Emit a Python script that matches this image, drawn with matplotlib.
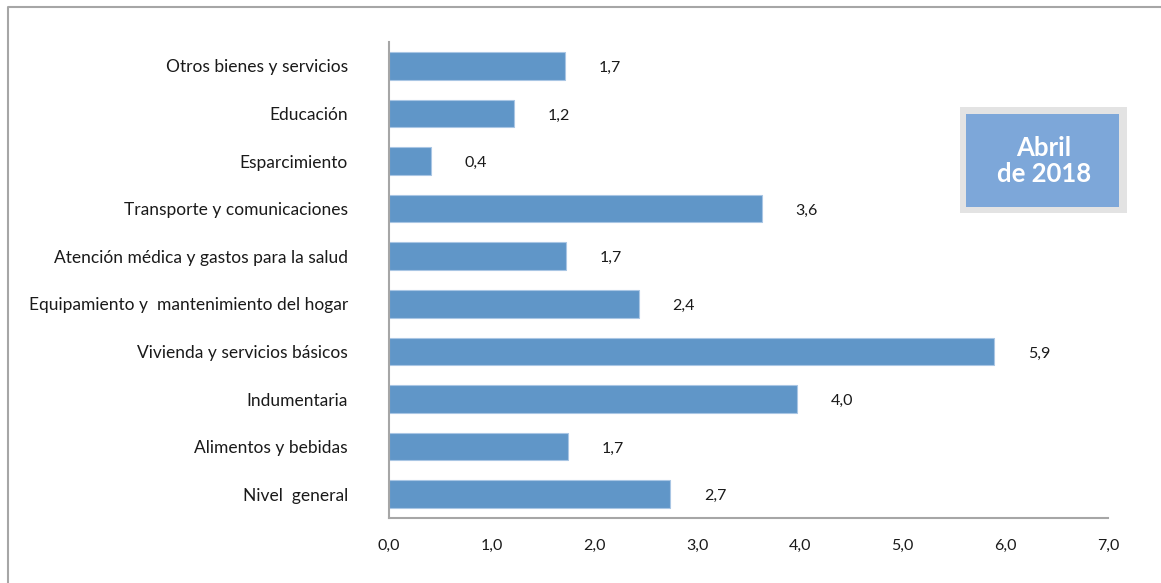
import matplotlib.pyplot as plt
from matplotlib.patches import Rectangle
from matplotlib.lines import Line2D

plt.rcParams['font.family'] = ['Lato', 'DejaVu Sans']

categorias = ['Nivel  general', 'Alimentos y bebidas', 'Indumentaria',
              'Vivienda y servicios básicos',
              'Equipamiento y  mantenimiento del hogar',
              'Atención médica y gastos para la salud',
              'Transporte y comunicaciones', 'Esparcimiento', 'Educación',
              'Otros bienes y servicios']
valores = [2.74, 1.74, 3.97, 5.89, 2.43, 1.72, 3.63, 0.41, 1.22, 1.71]
xticks = [0, 1, 2, 3, 4, 5, 6, 7]

W, H = 1161, 583
fig = plt.figure(figsize=(W / 100, H / 100), dpi=100)
ax = fig.add_axes([389 / W, 1 - 518 / H, (1108 - 389) / W, (518 - 42) / H])

ypos = range(len(categorias))
ax.barh(ypos, valores, height=0.58, color='#6096c8', edgecolor='#a9c6e4', linewidth=0.8)
ax.set_xlim(0, 7)
ax.set_ylim(-0.5, len(categorias) - 0.5)

for y, v in zip(ypos, valores):
    ax.annotate(('%.1f' % v).replace('.', ','), (v, y), xytext=(45, -2),
                textcoords='offset pixels', ha='center', va='center',
                fontsize=11.5, color='#1a1a1a')

ax.set_yticks(list(ypos))
ax.set_yticklabels(categorias, fontsize=12.5, color='#1a1a1a')
for t in ax.get_yticklabels():
    t.set_va('center_baseline')
ax.set_xticks(xticks)
ax.set_xticklabels([('%.1f' % t).replace('.', ',') for t in xticks], fontsize=11.5, color='#1a1a1a')
ax.tick_params(axis='both', length=0)
ax.tick_params(axis='y', pad=29.5)
ax.tick_params(axis='x', pad=15)

for s in ['top', 'right']:
    ax.spines[s].set_visible(False)
for s in ['left', 'bottom']:
    ax.spines[s].set_color('#a6a6a6')
    ax.spines[s].set_linewidth(1.5)

# recuadro "Abril de 2018"
fig.patches.append(Rectangle((960 / W, 1 - 213 / H), 167 / W, 106 / H,
                             transform=fig.transFigure, facecolor='#e3e3e3', edgecolor='none'))
fig.patches.append(Rectangle((966 / W, 1 - 207 / H), 153 / W, 93 / H,
                             transform=fig.transFigure, facecolor='#7da7d9', edgecolor='none'))
fig.text(1044 / W, 1 - 161 / H, 'Abril\nde 2018', ha='center', va='center',
         color='white', fontsize=18.5, fontweight='bold', linespacing=1.15)

# borde del gráfico
fig.lines.append(Line2D([8 / W, 8 / W, 1], [0, 1 - 7 / H, 1 - 7 / H],
                        transform=fig.transFigure, color='#a6a6a6', linewidth=1.5))

plt.savefig('out.png', dpi=100)
